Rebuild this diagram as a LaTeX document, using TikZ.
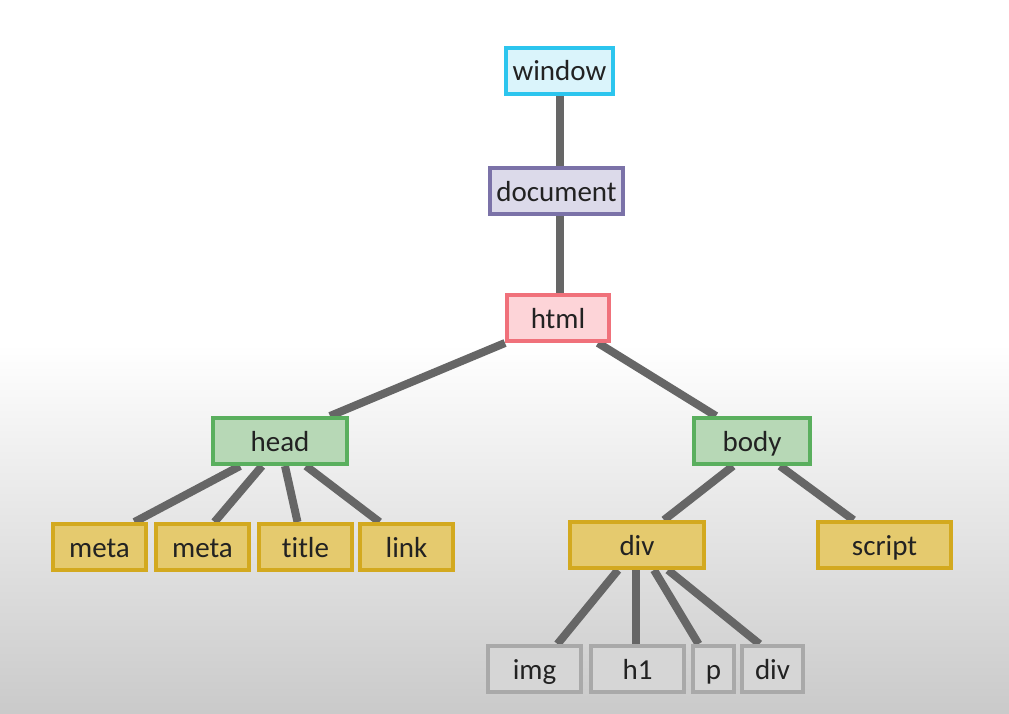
\documentclass[tikz,border=0pt]{standalone}
\usepackage{fontspec}
\setmainfont[Ligatures={NoCommon}]{Carlito}
\usetikzlibrary{backgrounds}
\definecolor{edgegray}{HTML}{666666}
\definecolor{winfill}{HTML}{DAF4FB}\definecolor{windraw}{HTML}{2CC5EE}
\definecolor{docfill}{HTML}{DCDAEA}\definecolor{docdraw}{HTML}{7B72A8}
\definecolor{htmlfill}{HTML}{FDD4D8}\definecolor{htmldraw}{HTML}{F0717B}
\definecolor{grnfill}{HTML}{B7D8B6}\definecolor{grndraw}{HTML}{5AAF5E}
\definecolor{ylwfill}{HTML}{E5CA6E}\definecolor{ylwdraw}{HTML}{D3A91F}
\definecolor{gryfill}{HTML}{D6D6D6}\definecolor{grydraw}{HTML}{A9A9A9}
\definecolor{bgbottom}{HTML}{CACACA}
\definecolor{txt}{HTML}{222222}
\tikzset{
  box/.style={draw, line width=4pt, minimum height=46pt, inner sep=0pt,
    text height=23pt, text depth=3pt,
    font=\fontsize{29}{32}\selectfont, text=txt, anchor=center},
  winbox/.style={box, fill=winfill, draw=windraw},
  docbox/.style={box, fill=docfill, draw=docdraw},
  htmlbox/.style={box, fill=htmlfill, draw=htmldraw},
  grnbox/.style={box, fill=grnfill, draw=grndraw},
  ylwbox/.style={box, fill=ylwfill, draw=ylwdraw},
  grybox/.style={box, fill=gryfill, draw=grydraw},
  edge/.style={draw=edgegray, line width=8pt}
}
\begin{document}
\begin{tikzpicture}[x=1pt,y=-1pt]
\useasboundingbox (0,0) rectangle (1009,713);
% nodes
\node[winbox, minimum width=107pt] (window) at (559.5,70.5) {window};
\node[docbox, minimum width=133pt] (document) at (556.5,191) {document};
\node[htmlbox, minimum width=102pt] (html) at (558,318) {html};
\node[grnbox, minimum width=134pt] (head) at (280,441) {head};
\node[grnbox, minimum width=116pt] (body) at (752,441) {body};
\node[ylwbox, minimum width=93pt] (meta1) at (99.5,547) {meta};
\node[ylwbox, minimum width=93pt] (meta2) at (202.5,547) {meta};
\node[ylwbox, minimum width=93pt] (title) at (305.5,547) {title};
\node[ylwbox, minimum width=93pt] (link) at (406.5,547) {link};
\node[ylwbox, minimum width=134pt] (div) at (637,545) {div};
\node[ylwbox, minimum width=133pt] (script) at (884.5,545) {script};
\node[grybox, minimum width=93pt] (img) at (534.5,669) {img};
\node[grybox, minimum width=93pt] (h1) at (637.5,669) {h1};
\node[grybox, minimum width=41pt] (p) at (713.5,669) {p};
\node[grybox, minimum width=61pt] (div2) at (772.5,669) {div};
% connectors
\begin{scope}[on background layer]
\fill[white] (0,0) rectangle (1009,345);
\shade[top color=white, bottom color=bgbottom] (0,344) rectangle (1009,713);
\draw[edge] ([xshift=0.5pt]window.south) -- ([xshift=3.5pt]document.north);
\draw[edge] ([xshift=3.5pt]document.south) -- ([xshift=2pt]html.north);
\draw[edge] ([xshift=-53pt]html.south) -- ([xshift=50pt]head.north);
\draw[edge] ([xshift=40pt]html.south) -- ([xshift=-36pt]body.north);
\draw[edge] ([xshift=-40pt]head.south) -- ([xshift=35pt]meta1.north);
\draw[edge] ([xshift=-18pt]head.south) -- ([xshift=12pt]meta2.north);
\draw[edge] ([xshift=5pt]head.south) -- ([xshift=-8pt]title.north);
\draw[edge] ([xshift=26pt]head.south) -- ([xshift=-27pt]link.north);
\draw[edge] ([xshift=-19pt]body.south) -- ([xshift=27pt]div.north);
\draw[edge] ([xshift=28pt]body.south) -- ([xshift=-31pt]script.north);
\draw[edge] ([xshift=-19pt]div.south) -- ([xshift=23pt]img.north);
\draw[edge] ([xshift=-1pt]div.south) -- ([xshift=-1.5pt]h1.north);
\draw[edge] ([xshift=17pt]div.south) -- ([xshift=-15pt]p.north);
\draw[edge] ([xshift=31pt]div.south) -- ([xshift=-13pt]div2.north);
\end{scope}
\end{tikzpicture}
\end{document}
